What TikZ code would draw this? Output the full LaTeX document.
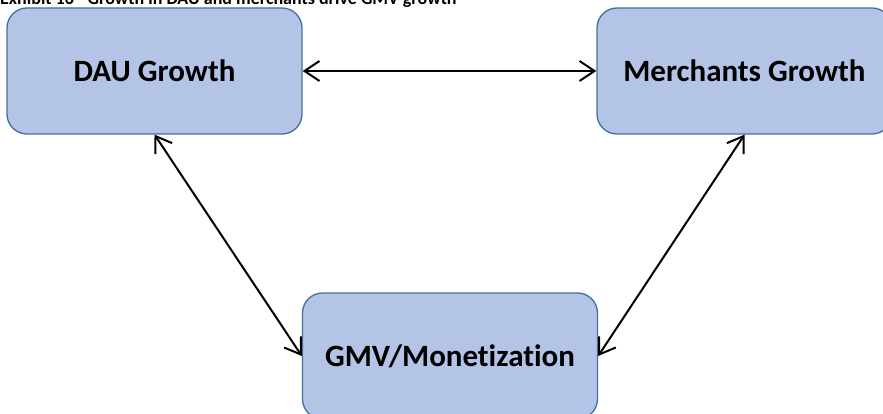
\documentclass[tikz,border=0pt]{standalone}
\usepackage{fontspec}
\setmainfont{Carlito}[Ligatures=NoCommon]
\usetikzlibrary{arrows.meta,positioning}
\definecolor{boxfill}{HTML}{B4C4E7}
\definecolor{boxline}{HTML}{41719C}
\tikzset{
  growthbox/.style={draw=boxline,fill=boxfill,line width=1.3pt,rounded corners=20pt,
    minimum width=295pt,minimum height=126pt,inner sep=0pt,
    font=\fontsize{31}{36}\selectfont\bfseries},
  link/.style={{Straight Barb[length=15pt,width=20pt]}-{Straight Barb[length=15pt,width=20pt]},line width=2pt}
}

\begin{document}
\begin{tikzpicture}[x=1pt,y=-1pt]
  \useasboundingbox (0,0) rectangle (883,414);
  \clip (0,0) rectangle (883,414);
  \node[anchor=base west,inner sep=0pt,font=\fontsize{18}{21}\selectfont\bfseries] (title) at (0,4.5) {Exhibit 16 - Growth in DAU and merchants drive GMV growth};
  \node[growthbox] (dau) at (154.5,71) {DAU Growth};
  \node[growthbox] (merch) at (744.5,71) {Merchants Growth};
  \node[growthbox] (gmv) at (450,356) {GMV/Monetization};
  \draw[link] (dau.east) -- (merch.west);
  \draw[link] (dau.south) -- (gmv.west);
  \draw[link] (merch.south) -- (gmv.east);
\end{tikzpicture}
\end{document}
